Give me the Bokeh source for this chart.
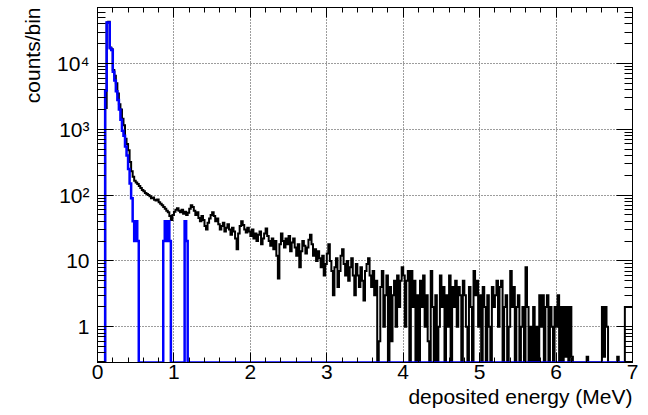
import math
from bokeh.plotting import figure
from bokeh.models import (Range1d, FixedTicker, LinearAxis, LogAxis, Title,
                          CustomLabelingPolicy)
from bokeh.embed import file_html
from bokeh.resources import INLINE

# ---------------- data ----------------
bin_width = 0.02           # MeV
n_bins = 350               # 0 .. 7 MeV

# black histogram: counts per 0.02 MeV bin, starting at 0 MeV
black_counts = [
    0, 0, 0, 0, 0, 2100, 42000, 43000, 17500, 16500,          # 0.00
    8000, 6500, 5000, 3500, 2400, 2000, 1450, 1150, 720, 600,  # 0.20
    480, 320, 230, 190, 165, 155, 148, 138, 128, 120,          # 0.40
    115, 108, 104, 100, 96, 90, 92, 85, 83, 86,                # 0.60
    78, 74, 70, 66, 62, 58, 55, 48, 42, 50,                    # 0.80
    56, 60, 63, 58, 55, 60, 52, 56, 50, 54,                    # 1.00
    62, 70, 66, 58, 50, 55, 45, 40, 48, 42,                    # 1.20
    34, 30, 38, 44, 50, 55, 48, 40, 44, 36,                    # 1.40
    30, 34, 38, 28, 32, 36, 30, 25, 32, 28,                    # 1.60
    22, 15, 26, 34, 40, 35, 30, 27, 32, 28,                    # 1.80
    24, 30, 22, 26, 20, 25, 28, 18, 22, 26,                    # 2.00
    31, 24, 20, 17, 22, 15, 20, 12, 5.4, 18,                   # 2.20
    26, 20, 16, 22, 18, 24, 14, 19, 22, 16,                    # 2.40
    12, 18, 8, 14, 20, 17, 13, 16, 21, 25,                     # 2.60
    18, 12, 15, 10, 14, 11, 8, 12, 6, 9,                       # 2.80
    13, 18, 10, 7, 3, 8, 11, 4, 7, 12,                         # 3.00
    15, 9, 6, 10, 5, 8, 11, 6, 3, 9,                           # 3.20
    6, 4, 8, 5, 2.5, 7, 9, 11, 6, 4,                           # 3.40
    7, 3, 5, 0, 0.6, 4, 7, 1, 3, 6,                            # 3.60
    0, 4, 0.6, 3, 5, 1, 6, 2, 5, 8,                            # 3.80
    6, 1, 5, 7, 0, 7, 2, 5, 0, 3,                              # 4.00
    0, 5, 2, 6, 1, 3, 0.6, 0, 7, 2,                            # 4.20
    0, 3, 0, 1, 6, 2, 4, 0, 3, 1,                              # 4.40
    6, 0, 4, 2, 5, 1, 4, 3, 0, 5,                              # 4.60
    3, 1, 0, 4, 2, 0, 7, 3, 5, 1,                              # 4.80
    3, 0, 4, 2, 0, 3, 1, 0, 4, 2,                              # 5.00
    3, 5, 1, 4, 5, 0, 2, 3, 0, 1,                              # 5.20
    7, 2, 4, 0, 2, 3, 0, 1, 2, 0,                              # 5.40
    8, 2, 0, 1, 0, 2, 0, 1, 0, 3,                              # 5.60
    1, 3, 0, 2, 3, 0, 2, 1, 0, 2,                              # 5.80
    1, 3, 0, 2, 0, 2, 0.35, 2, 0, 2,                           # 6.00
    0.35, 0, 0, 0, 0, 0, 0, 0, 0, 0,                           # 6.20
    0.35, 0, 0, 0, 0, 0, 0, 0, 0, 0,                           # 6.40
    2, 0.35, 2, 1, 0, 0, 0, 0, 0, 0,                           # 6.60
    0.35, 0, 0, 0, 0, 2, 2, 2, 2, 2,                           # 6.80
]

# blue histogram: only non-empty bins (bin start energy in MeV, counts)
blue_bin_start = [0.10, 0.12, 0.14, 0.16, 0.18, 0.20, 0.22, 0.24, 0.26, 0.28,
                  0.30, 0.32, 0.34, 0.36, 0.38, 0.40, 0.42, 0.44, 0.46, 0.48,
                  0.50, 0.52,
                  0.86, 0.88, 0.90, 0.92, 0.94,
                  1.14, 1.16]
blue_bin_counts = [3900, 42000, 42000, 17000, 16000, 7500, 5500, 3800, 2800, 2000,
                   1400, 950, 800, 550, 400, 250, 150, 90, 40, 20,
                   40, 20,
                   20, 40, 20, 40, 20,
                   40, 20]

x_tick_values = [0, 1, 2, 3, 4, 5, 6, 7]
y_tick_values = [1, 10, 100, 1000, 10000]
y_tick_labels = ["1", "10", "10²", "10³", "10⁴"]

x_title = "deposited energy (MeV)"
y_title = "counts/bin"

# ---------------- build ----------------
X_MIN, X_MAX = 0.0, 7.0
Y_MIN, Y_MAX = 0.286, 71000.0
FONT = "Liberation Sans"

edges = [i * bin_width for i in range(n_bins + 1)]

blue_counts = [0.0] * n_bins
for e, c in zip(blue_bin_start, blue_bin_counts):
    blue_counts[int(round(e / bin_width))] = c

def step_y(counts):
    # empty bins are drawn on the bottom of the log frame (ROOT style)
    ys = [c if c > 0 else Y_MIN for c in counts]
    return ys + [ys[-1]]

p = figure(width=648, height=415, y_axis_type="log",
           x_range=Range1d(X_MIN, X_MAX), y_range=Range1d(Y_MIN, Y_MAX),
           output_backend="svg", toolbar_location=None,
           min_border_left=97, min_border_right=16,
           min_border_top=7, min_border_bottom=53)
try:
    p.title = None
except Exception:
    p.title.visible = False
p.background_fill_color = "white"
p.border_fill_color = "white"
p.outline_line_color = "black"
p.outline_line_width = 1

x_minor = [i * 0.2 for i in range(36)]
y_minor = []
for d in range(-1, 5):
    for m in range(2, 10):
        v = m * 10.0 ** d
        if Y_MIN <= v <= Y_MAX:
            y_minor.append(v)

xt = FixedTicker(ticks=x_tick_values, minor_ticks=x_minor)
yt = FixedTicker(ticks=y_tick_values, minor_ticks=y_minor)

hide_all = "for (const i of indices) indices.unset(i)"

def style_common(ax, labels):
    ax.axis_line_color = "black"
    ax.major_tick_out = 0
    ax.minor_tick_out = 0
    ax.major_tick_line_color = "black"
    ax.minor_tick_line_color = "black"
    if labels:
        ax.major_label_text_font = FONT
        ax.major_label_text_font_size = "21px"
        ax.major_label_text_color = "black"
    else:
        ax.major_label_text_font_size = "1px"
        ax.major_label_standoff = 0
        ax.axis_label_standoff = 0
        ax.major_label_policy = CustomLabelingPolicy(code=hide_all)

def style_x(ax, labels=True):
    ax.ticker = xt
    ax.major_tick_in = 10
    ax.minor_tick_in = 5
    style_common(ax, labels)
    if labels:
        ax.major_label_standoff = 2
    else:
        ax.major_label_overrides = {v: "" for v in x_tick_values}

def style_y(ax, labels=True):
    ax.ticker = yt
    ax.major_tick_in = 16
    ax.minor_tick_in = 8
    style_common(ax, labels)
    if labels:
        ax.major_label_overrides = {v: s for v, s in zip(y_tick_values, y_tick_labels)}
        ax.major_label_standoff = 8
    else:
        ax.major_label_overrides = {v: "" for v in y_tick_values}

style_x(p.xaxis[0])
style_y(p.yaxis[0])

top_axis = LinearAxis()
style_x(top_axis, labels=False)
p.add_layout(top_axis, "above")
right_axis = LogAxis()
style_y(right_axis, labels=False)
p.add_layout(right_axis, "right")

for g in (p.xgrid[0], p.ygrid[0]):
    g.grid_line_color = "#3a3a3a"
    g.grid_line_dash = "1 2"
    g.grid_line_width = 1
p.xgrid[0].ticker = xt
p.ygrid[0].ticker = yt

p.step(edges, step_y(black_counts), mode="after",
       line_color="black", line_width=2, line_join="miter")
p.step(edges, step_y(blue_counts), mode="after",
       line_color="#0000ff", line_width=2.5, line_join="miter")

# axis titles, ROOT style: aligned to the far end of each axis
p.add_layout(Title(text=x_title, align="right", vertical_align="bottom",
                   standoff=2, offset=0, text_font=FONT, text_font_size="21px",
                   text_font_style="normal", text_color="black"), "below")
p.add_layout(Title(text=y_title, align="right", vertical_align="top",
                   standoff=18, offset=0, text_font=FONT, text_font_size="21px",
                   text_font_style="normal", text_color="black"), "left")

open("out.html", "w").write(file_html(p, INLINE))
